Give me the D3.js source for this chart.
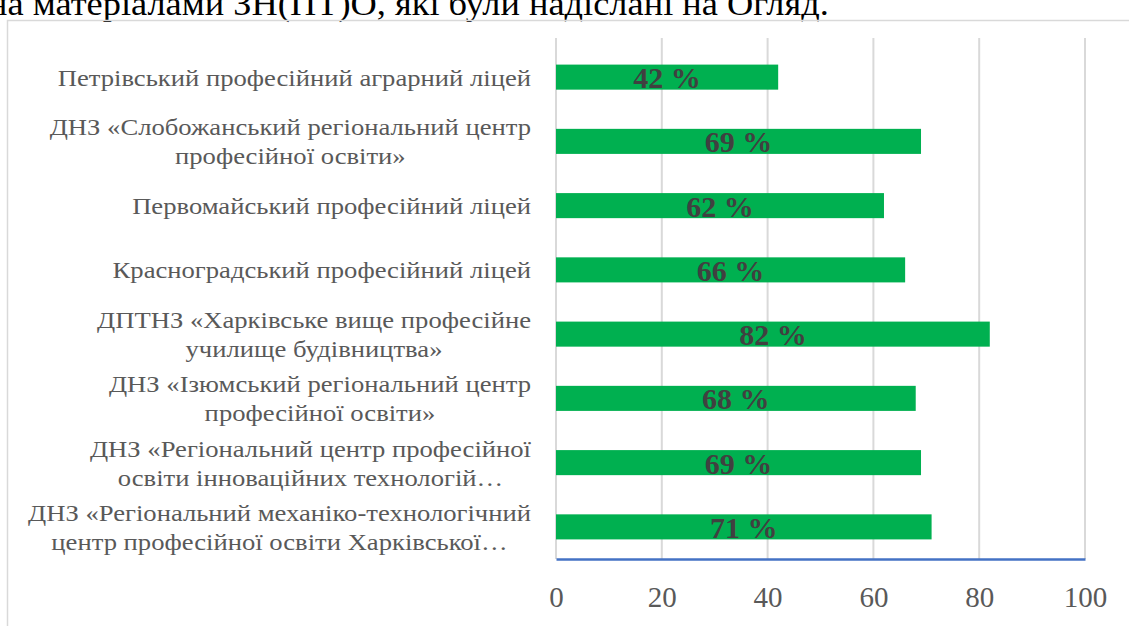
<!DOCTYPE html>
<html>
<head>
<meta charset="utf-8">
<script src="https://cdn.jsdelivr.net/npm/d3@7"></script>
<style>
  body { margin: 0; background: #fff; overflow: hidden; }
  svg { display: block; font-family: "Liberation Serif", "Times New Roman", serif; }
</style>
</head>
<body>
<script>
(function(){

    // chart data
    var headText = "на матеріалами ЗН(ПТ)О, які були надіслані на Огляд.";

    var categories = [
        ["Петрівський професійний аграрний ліцей"],
        ["ДНЗ «Слобожанський регіональний центр", "професійної освіти»"],
        ["Первомайський професійний ліцей"],
        ["Красноградський професійний ліцей"],
        ["ДПТНЗ «Харківське вище професійне", "училище будівництва»"],
        ["ДНЗ «Ізюмський регіональний центр", "професійної освіти»"],
        ["ДНЗ «Регіональний центр професійної", "освіти інноваційних технологій…"],
        ["ДНЗ «Регіональний механіко-технологічний", "центр професійної освіти Харківської…"]
    ];

    var values = [42, 69, 62, 66, 82, 68, 69, 71];

    var xTicks = [0, 20, 40, 60, 80, 100];

    window.onload = drawChart();

    function drawChart(){
        var width = 1129,
            height = 626;

        var svg = d3.select("body")
            .append("svg")
            .attr("width", width)
            .attr("height", height);

        // heading text from the document, cut at the top
        svg.append("text")
            .attr("transform", "translate(-12,15) scale(1.07,1)")
            .attr("font-size", 34)
            .attr("fill", "#000")
            .text(headText);

        // chart frame
        svg.append("rect")
            .attr("x", 7.5)
            .attr("y", 20.5)
            .attr("width", 1140)
            .attr("height", 640)
            .attr("fill", "none")
            .attr("stroke", "#d9d9d9")
            .attr("stroke-width", 1.5);

        var x = d3.scaleLinear()
            .domain([0, 100])
            .range([556, 1085]);

        var y = d3.scaleBand()
            .domain(d3.range(categories.length))
            .range([45, 559])
            .paddingInner(0.61)
            .paddingOuter(0.305);

        var gridTop = 38, axisY = 559;

        // vertical gridlines
        svg.selectAll(".grid")
            .data(xTicks)
            .enter()
            .append("line")
            .attr("class", "grid")
            .attr("x1", function(d){ return x(d); })
            .attr("x2", function(d){ return x(d); })
            .attr("y1", gridTop)
            .attr("y2", axisY)
            .attr("stroke", "#d9d9d9")
            .attr("stroke-width", 2);

        // bars
        svg.selectAll(".bar")
            .data(values)
            .enter()
            .append("rect")
            .attr("class", "bar")
            .attr("x", x(0))
            .attr("y", function(d, i){ return y(i); })
            .attr("width", function(d){ return x(d) - x(0); })
            .attr("height", y.bandwidth())
            .attr("fill", "#00b050");

        // value labels
        svg.selectAll(".val")
            .data(values)
            .enter()
            .append("text")
            .attr("class", "val")
            .attr("x", function(d){ return (x(0) + x(d)) / 2; })
            .attr("y", function(d, i){ return y(i) + y.bandwidth() / 2 + 11; })
            .attr("text-anchor", "middle")
            .attr("font-size", 30)
            .attr("font-weight", "bold")
            .attr("fill", "#404040")
            .text(function(d){ return d + " %"; });

        // x axis line
        var xAxis = d3.axisBottom(x)
            .tickValues(xTicks)
            .tickSize(0)
            .tickPadding(27);

        var axisG = svg.append("g")
            .attr("transform", "translate(0," + axisY + ")")
            .call(xAxis);

        axisG.select(".domain")
            .attr("stroke", "#4472c4")
            .attr("stroke-width", 2.5);

        axisG.selectAll("text")
            .attr("font-family", "Liberation Serif, Times New Roman, serif")
            .attr("font-size", 29)
            .attr("fill", "#595959");

        // category labels, centered block aligned to the right
        var labelRight = 531, lineH = 29, sx = 1.11;

        categories.forEach(function(lines, i){
            var cy = y(i) + y.bandwidth() / 2;
            var top = cy - (lines.length - 1) * lineH / 2;
            var g = svg.append("g")
                .attr("class", "cat")
                .attr("transform", "translate(" + labelRight + ",0) scale(" + sx + ",1)");
            var texts = lines.map(function(line, j){
                return g.append("text")
                    .attr("y", top + j * lineH)
                    .attr("dy", "0.35em")
                    .attr("text-anchor", "middle")
                    .attr("font-size", 24)
                    .attr("fill", "#595959")
                    .text(line);
            });
            var maxW = d3.max(texts, function(t){ return t.node().getComputedTextLength(); });
            texts.forEach(function(t){
                t.attr("x", -maxW / 2);
            });
        });
    };

})();
</script>
</body>
</html>
